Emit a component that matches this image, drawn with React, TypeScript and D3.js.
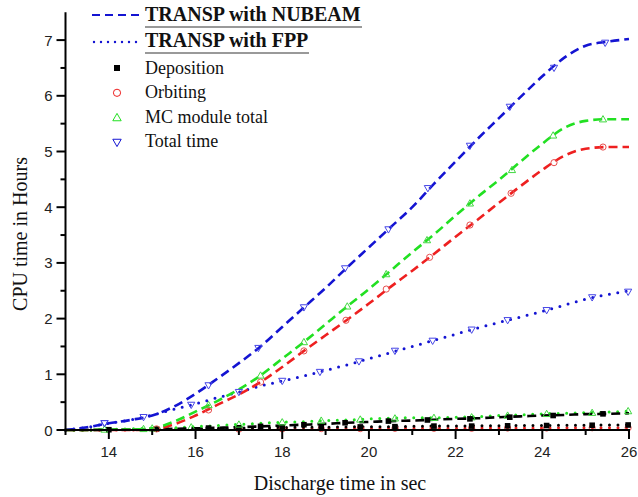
import React from "react";
import * as d3 from "d3";

// ---- Data ----
const TIME = [13, 13.5, 14, 14.5, 15, 15.5, 16, 16.5, 17, 17.5, 18, 18.5, 19, 19.5, 20, 20.5, 21, 21.5, 22, 22.5, 23, 23.5, 24, 24.5, 25, 25.5, 26];

const nubeamTotal = [0, 0.05, 0.12, 0.18, 0.26, 0.42, 0.65, 0.92, 1.2, 1.5, 1.85, 2.2, 2.55, 2.92, 3.28, 3.64, 4.0, 4.42, 4.82, 5.22, 5.6, 5.98, 6.35, 6.68, 6.9, 6.97, 7.02];
const nubeamMC = [0, 0, 0.01, 0.01, 0.03, 0.15, 0.33, 0.52, 0.73, 0.98, 1.28, 1.58, 1.9, 2.22, 2.53, 2.86, 3.19, 3.51, 3.85, 4.18, 4.49, 4.82, 5.14, 5.42, 5.55, 5.58, 5.58];
const nubeamOrb = [0, 0, 0, 0, 0.01, 0.1, 0.26, 0.45, 0.64, 0.86, 1.13, 1.42, 1.7, 1.98, 2.27, 2.57, 2.86, 3.16, 3.47, 3.77, 4.08, 4.38, 4.67, 4.92, 5.05, 5.08, 5.08];
const nubeamDep = [0, 0, 0.005, 0.01, 0.015, 0.02, 0.03, 0.04, 0.05, 0.065, 0.08, 0.095, 0.11, 0.13, 0.145, 0.16, 0.17, 0.185, 0.2, 0.21, 0.23, 0.245, 0.26, 0.27, 0.285, 0.29, 0.3];
const fppTotal = [0, 0.05, 0.12, 0.18, 0.27, 0.37, 0.47, 0.58, 0.68, 0.79, 0.88, 0.97, 1.07, 1.17, 1.28, 1.39, 1.5, 1.61, 1.72, 1.83, 1.93, 2.03, 2.13, 2.24, 2.35, 2.43, 2.5];
const fppMC = [0, 0, 0.01, 0.02, 0.03, 0.04, 0.06, 0.08, 0.1, 0.12, 0.14, 0.15, 0.17, 0.18, 0.2, 0.21, 0.22, 0.22, 0.23, 0.24, 0.26, 0.27, 0.29, 0.3, 0.31, 0.32, 0.34];
const fppDep = [0, 0, 0.005, 0.01, 0.015, 0.02, 0.025, 0.03, 0.035, 0.04, 0.045, 0.05, 0.05, 0.055, 0.06, 0.06, 0.065, 0.07, 0.07, 0.075, 0.075, 0.08, 0.08, 0.085, 0.085, 0.09, 0.09];
const fppOrb = [0, 0, 0, 0, 0.005, 0.01, 0.01, 0.015, 0.015, 0.02, 0.02, 0.02, 0.025, 0.025, 0.025, 0.03, 0.03, 0.03, 0.03, 0.035, 0.035, 0.035, 0.035, 0.04, 0.04, 0.04, 0.04];

// marker points [t, v]
const nubeamTotalMarks = [[13.9, 0.12], [16.3, 0.8], [17.45, 1.47], [18.5, 2.2], [19.45, 2.9], [20.45, 3.6], [21.36, 4.34], [22.33, 5.1], [23.25, 5.8], [24.27, 6.5], [25.45, 6.95]];
const nubeamMCMarks = [[13.9, 0.01], [15.0, 0.03], [16.3, 0.45], [17.5, 0.98], [18.5, 1.58], [19.5, 2.22], [20.4, 2.8], [21.34, 3.41], [22.33, 4.07], [23.3, 4.67], [24.25, 5.29], [25.4, 5.58]];
const nubeamOrbMarks = [[15.1, 0.02], [16.3, 0.36], [17.5, 0.86], [18.5, 1.42], [19.47, 1.97], [20.4, 2.53], [21.4, 3.1], [22.33, 3.68], [23.28, 4.25], [24.27, 4.8], [25.4, 5.08]];
const nubeamDepMarks = [[14.0, 0.005], [15.1, 0.015], [16.3, 0.035], [17.5, 0.065], [18.5, 0.095], [19.45, 0.13], [20.45, 0.16], [21.35, 0.18], [22.33, 0.2], [23.25, 0.23], [24.25, 0.26], [25.4, 0.29]];
const fppTotalMarks = [[13.9, 0.12], [14.8, 0.23], [15.9, 0.45], [17.0, 0.68], [18.0, 0.88], [18.87, 1.04], [19.77, 1.23], [20.6, 1.42], [21.47, 1.6], [22.37, 1.8], [23.2, 1.97], [24.1, 2.15], [25.15, 2.38], [25.98, 2.48]];
const fppMCMarks = [[14.8, 0.02], [15.9, 0.05], [17.0, 0.1], [18.0, 0.14], [18.9, 0.17], [19.8, 0.19], [20.6, 0.21], [21.5, 0.22], [22.37, 0.23], [23.2, 0.26], [24.1, 0.29], [25.15, 0.31], [25.98, 0.34]];
const fppDepMarks = [[17.0, 0.04], [18.0, 0.045], [18.9, 0.05], [19.8, 0.055], [20.6, 0.06], [21.5, 0.07], [22.37, 0.07], [23.2, 0.075], [24.1, 0.08], [25.15, 0.085], [25.98, 0.09]];
const fppOrbMarks = [[17.0, 0.015], [18.0, 0.02], [18.9, 0.025], [19.8, 0.025], [20.6, 0.03], [21.5, 0.03], [22.37, 0.03], [23.2, 0.035], [24.1, 0.035], [25.15, 0.04], [25.98, 0.04]];

const X_TICKS = [14, 16, 18, 20, 22, 24, 26];
const X_MINOR = [13, 15, 17, 19, 21, 23, 25];
const Y_TICKS = [0, 1, 2, 3, 4, 5, 6, 7];
const Y_MINOR = [0.5, 1.5, 2.5, 3.5, 4.5, 5.5, 6.5];

const BLUE = "#1414d2";
const GREEN = "#22e022";
const RED = "#ee2020";
const BLACK = "#000";

const x = d3.scaleLinear().domain([13, 26]).range([65.5, 629]);
const y = d3.scaleLinear().domain([0, 7.5]).range([430, 12.25]);

const line = d3
  .line<number>()
  .x((_, i) => x(TIME[i]))
  .y((v) => y(v))
  .curve(d3.curveMonotoneX);

const DASH = { strokeDasharray: "9 5", strokeWidth: 2.6, strokeLinecap: "butt" as const };
const DOT = { strokeDasharray: "0 8.5", strokeWidth: 3, strokeLinecap: "round" as const };

function Marker({ kind, cx, cy, color, big }: { kind: string; cx: number; cy: number; color: string; big?: boolean }) {
  const s = big ? 4.2 : 3.6;
  if (kind === "square") {
    const h = big ? 3 : 2.8;
    return <rect x={cx - h} y={cy - h} width={2 * h} height={2 * h} fill={BLACK} />;
  }
  if (kind === "circle") return <circle cx={cx} cy={cy} r={big ? 3.6 : 3.1} fill="none" stroke={color} strokeWidth={1} />;
  if (kind === "up")
    return <path d={`M${cx},${cy - s} L${cx + s},${cy + s * 0.75} L${cx - s},${cy + s * 0.75} Z`} fill="none" stroke={color} strokeWidth={1} />;
  return <path d={`M${cx},${cy + s} L${cx + s},${cy - s * 0.75} L${cx - s},${cy - s * 0.75} Z`} fill="none" stroke={color} strokeWidth={1} />;
}

const lines = [
  { vals: fppOrb, color: RED, style: DOT },
  { vals: fppDep, color: BLACK, style: DOT },
  { vals: fppMC, color: GREEN, style: DOT },
  { vals: nubeamDep, color: BLACK, style: DASH },
  { vals: fppTotal, color: BLUE, style: DOT },
  { vals: nubeamOrb, color: RED, style: DASH },
  { vals: nubeamMC, color: GREEN, style: DASH },
  { vals: nubeamTotal, color: BLUE, style: DASH },
];

const markSets = [
  { pts: fppOrbMarks, kind: "circle", color: "#e85050" },
  { pts: fppDepMarks, kind: "square", color: BLACK },
  { pts: fppMCMarks, kind: "up", color: "#40d840" },
  { pts: nubeamDepMarks, kind: "square", color: BLACK },
  { pts: fppTotalMarks, kind: "down", color: "#4646e6" },
  { pts: nubeamOrbMarks, kind: "circle", color: "#e85050" },
  { pts: nubeamMCMarks, kind: "up", color: "#40d840" },
  { pts: nubeamTotalMarks, kind: "down", color: "#4646e6" },
];

const legendItems = [
  { label: "Deposition", kind: "square", color: BLACK },
  { label: "Orbiting", kind: "circle", color: RED },
  { label: "MC module total", kind: "up", color: GREEN },
  { label: "Total time", kind: "down", color: BLUE },
];

export default function App() {
  const serif = "'Liberation Serif', 'Times New Roman', serif";
  const sans = "'Liberation Sans', Arial, sans-serif";
  return (
    <svg width={638} height={497} style={{ position: "absolute", left: 0, top: 0, background: "#fff" }}>
      <rect width={638} height={497} fill="#fff" />
      {lines.map((l, i) => (
        <path key={i} d={line(l.vals) || ""} fill="none" stroke={l.color} {...l.style} />
      ))}
      {markSets.map((m, i) => (
        <g key={i}>
          {m.pts.map((p, j) => (
            <Marker key={j} kind={m.kind} cx={x(p[0])} cy={y(p[1])} color={m.color} />
          ))}
        </g>
      ))}

      <g stroke="#000" strokeWidth={2}>
        <line x1={x(13)} x2={x(26) + 1} y1={y(0)} y2={y(0)} />
        <line x1={x(13)} x2={x(13)} y1={y(0) + 1} y2={y(7.5)} />
        {X_TICKS.map((t) => (
          <line key={"xt" + t} x1={x(t)} x2={x(t)} y1={y(0)} y2={y(0) + 9} />
        ))}
        {X_MINOR.map((t) => (
          <line key={"xm" + t} x1={x(t)} x2={x(t)} y1={y(0)} y2={y(0) + 5} />
        ))}
        {Y_TICKS.map((v) => (
          <line key={"yt" + v} x1={x(13) - 9} x2={x(13)} y1={y(v)} y2={y(v)} />
        ))}
        {Y_MINOR.map((v) => (
          <line key={"ym" + v} x1={x(13) - 5} x2={x(13)} y1={y(v)} y2={y(v)} />
        ))}
      </g>
      <g fontFamily={sans} fontSize={15} fill="#222">
        {X_TICKS.map((t) => (
          <text key={"xl" + t} x={x(t)} y={y(0) + 27} textAnchor="middle">
            {t}
          </text>
        ))}
        {Y_TICKS.map((v) => (
          <text key={"yl" + v} x={x(13) - 13} y={y(v) + 5.5} textAnchor="end">
            {v}
          </text>
        ))}
      </g>
      <text x={340} y={490} textAnchor="middle" fontFamily={serif} fontSize={20} fill="#111">
        Discharge time in sec
      </text>
      <text transform="translate(27,234) rotate(-90)" textAnchor="middle" fontFamily={serif} fontSize={20} fill="#111">
        CPU time in Hours
      </text>

      <line x1={92} x2={141} y1={15} y2={15} stroke={BLUE} strokeWidth={2.2} strokeDasharray="8 5" />
      <line x1={94} x2={141} y1={42} y2={42} stroke={BLUE} strokeWidth={2.4} strokeDasharray="0 7" strokeLinecap="round" />
      <text x={145} y={21} fontFamily={serif} fontSize={20} fontWeight="bold" fill="#111">
        TRANSP with NUBEAM
      </text>
      <line x1={145} x2={362} y1={27} y2={27} stroke="#999" strokeWidth={2} />
      <text x={145} y={47} fontFamily={serif} fontSize={20} fontWeight="bold" fill="#111">
        TRANSP with FPP
      </text>
      <line x1={145} x2={309} y1={53} y2={53} stroke="#999" strokeWidth={2} />
      {legendItems.map((it, i) => (
        <g key={it.label}>
          <Marker kind={it.kind} cx={117} cy={68 + i * 24.8} color={it.color} big />
          <text x={145} y={73.5 + i * 24.6} fontFamily={serif} fontSize={18} fill="#111">
            {it.label}
          </text>
        </g>
      ))}
    </svg>
  );
}
